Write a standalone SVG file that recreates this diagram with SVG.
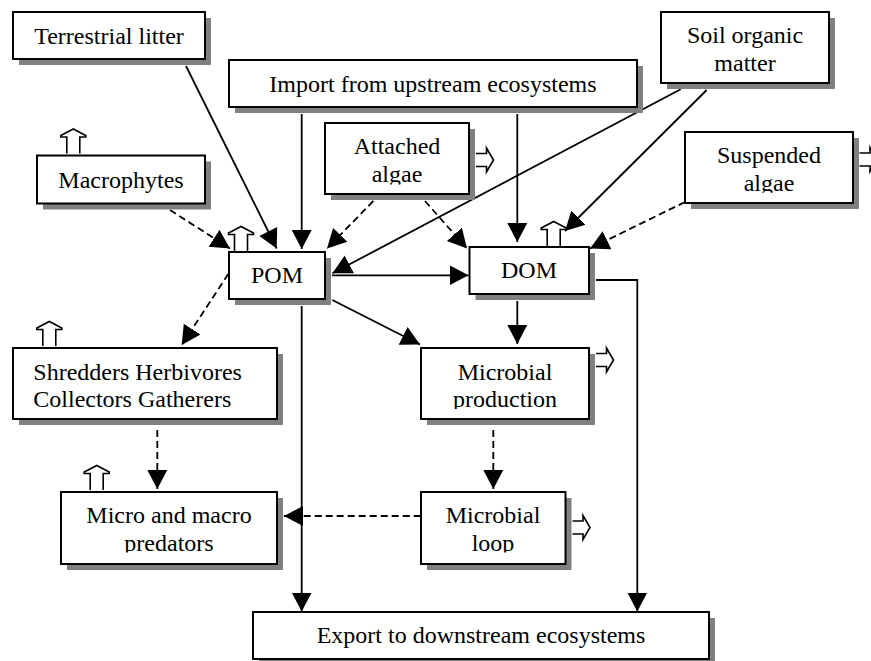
<svg xmlns="http://www.w3.org/2000/svg" xmlns:xlink="http://www.w3.org/1999/xlink" width="871" height="661" viewBox="0 0 871 661">
<style>
.sh{fill:#808080;stroke:none}
.bx{fill:#fff;stroke:#000;stroke-width:2}
.t{font-family:"Liberation Serif","Times New Roman",serif;font-size:24px;fill:#000;text-anchor:middle}
.tl{text-anchor:start}
.c{fill:none;stroke:#000;stroke-width:1.8;marker-end:url(#ah)}
.d{stroke-dasharray:7,4}
.oa{fill:#fff;stroke:#000;stroke-width:1.6}
</style>
<defs>
<marker id="ah" markerUnits="userSpaceOnUse" markerWidth="22" markerHeight="22" refX="19" refY="11" orient="auto">
<path d="M0,1 L19,11 L0,21 Z" fill="#000" stroke="none"/>
</marker>
<path id="up" d="M-6.5,0 V-16.5 H-12.5 V-18 L0,-24.5 L12.5,-18 V-16.5 H6.5 V0"/>
<path id="rt" d="M0,-6.5 H10.5 V-12 L17.5,0 L10.5,12 V6.5 H0"/>
<clipPath id="cpAtt"><rect x="0" y="0" width="871" height="184.5"/></clipPath>
<clipPath id="cpSus"><rect x="0" y="0" width="871" height="192.8"/></clipPath>
<clipPath id="cpProd"><rect x="0" y="0" width="871" height="409"/></clipPath>
<clipPath id="cpPred"><rect x="0" y="0" width="871" height="552.5"/></clipPath>
</defs>

<g id="connectors">
<line class="c" x1="186" y1="66" x2="276.7" y2="248.5"/>
<line class="c" x1="301.7" y1="114" x2="301.7" y2="249"/>
<line class="c" x1="517.3" y1="114" x2="517.3" y2="242"/>
<line class="c" x1="680.7" y1="89.3" x2="332.5" y2="273.3"/>
<line class="c" x1="706.7" y1="90" x2="565" y2="231"/>
<line class="c d" x1="170" y1="210" x2="230" y2="248.5"/>
<line class="c d" x1="373.3" y1="201" x2="327" y2="248.5"/>
<line class="c d" x1="425" y1="201" x2="467" y2="248.5"/>
<line class="c d" x1="685" y1="202" x2="590" y2="248.5"/>
<line class="c" x1="332" y1="275.3" x2="468.5" y2="275.3"/>
<line class="c" x1="517.3" y1="301" x2="517.3" y2="344"/>
<path class="c" d="M596,280 H637.3 V611.5"/>
<line class="c" x1="332.3" y1="300" x2="420" y2="344.5"/>
<line class="c" x1="301.7" y1="306" x2="301.7" y2="611.5"/>
<line class="c d" x1="228.3" y1="274" x2="181.7" y2="345"/>
<line class="c d" x1="157.3" y1="430" x2="157.3" y2="489"/>
<line class="c d" x1="493.3" y1="430" x2="493.3" y2="489"/>
<line class="c d" x1="420.7" y1="516" x2="284" y2="516"/>
</g>

<g id="terrestrial-litter">
<rect class="sh" x="19" y="18" width="192" height="47"/>
<rect class="bx" x="13" y="12" width="192" height="47"/>
<text class="t" x="109" y="44">Terrestrial litter</text>
</g>

<g id="import-upstream">
<rect class="sh" x="235" y="66" width="408" height="47"/>
<rect class="bx" x="229" y="60" width="408" height="47"/>
<text class="t" x="433" y="91.7">Import from upstream ecosystems</text>
</g>

<g id="soil-organic-matter">
<rect class="sh" x="667" y="18" width="168" height="71"/>
<rect class="bx" x="661" y="12" width="168" height="71"/>
<text class="t" x="745" y="43.3">Soil organic</text>
<text class="t" x="745" y="71">matter</text>
</g>

<g id="macrophytes">
<rect class="sh" x="43" y="161.5" width="168" height="48"/>
<rect class="bx" x="37" y="155.5" width="168" height="48"/>
<text class="t" x="121" y="187.7">Macrophytes</text>
<use href="#up" class="oa" x="73.3" y="153.5"/>
</g>

<g id="attached-algae">
<rect class="sh" x="331" y="129" width="144" height="71"/>
<rect class="bx" x="325" y="123" width="144" height="71"/>
<text class="t" x="397" y="154.3">Attached</text>
<text class="t" x="397" y="182.3" clip-path="url(#cpAtt)">algae</text>
<use href="#rt" class="oa" x="476" y="160"/>
</g>

<g id="suspended-algae">
<rect class="sh" x="691" y="138" width="168" height="71"/>
<rect class="bx" x="685" y="132" width="168" height="71"/>
<text class="t" x="769" y="163.3">Suspended</text>
<text class="t" x="769" y="191" clip-path="url(#cpSus)">algae</text>
<use href="#rt" class="oa" x="859.5" y="159.5"/>
</g>

<g id="pom">
<rect class="sh" x="235" y="258" width="96" height="47"/>
<rect class="bx" x="229" y="252" width="96" height="47"/>
<text class="t" x="277" y="283.3">POM</text>
<use href="#up" class="oa" x="241" y="251"/>
</g>

<g id="dom">
<rect class="sh" x="475.5" y="253" width="119.5" height="47"/>
<rect class="bx" x="469.5" y="247" width="119.5" height="47"/>
<text class="t" x="529" y="278.3">DOM</text>
<use href="#up" class="oa" x="553.7" y="246"/>
</g>

<g id="shredders">
<rect class="sh" x="19" y="354" width="264" height="71"/>
<rect class="bx" x="13" y="348" width="264" height="71"/>
<text class="t tl" x="33.3" y="380">Shredders Herbivores</text>
<text class="t tl" x="33.3" y="407.3">Collectors Gatherers</text>
<use href="#up" class="oa" x="49.3" y="346"/>
</g>

<g id="microbial-production">
<rect class="sh" x="427" y="354" width="168" height="71"/>
<rect class="bx" x="421" y="348" width="168" height="71"/>
<text class="t" x="505" y="380">Microbial</text>
<text class="t" x="505" y="407.3" clip-path="url(#cpProd)">production</text>
<use href="#rt" class="oa" x="596" y="360"/>
</g>

<g id="predators">
<rect class="sh" x="67" y="498" width="216" height="72"/>
<rect class="bx" x="61" y="492" width="216" height="72"/>
<text class="t" x="169" y="522.7">Micro and macro</text>
<text class="t" x="169" y="550.7" clip-path="url(#cpPred)">predators</text>
<use href="#up" class="oa" x="96.7" y="490"/>
</g>

<g id="microbial-loop">
<rect class="sh" x="427" y="498" width="144.5" height="72"/>
<rect class="bx" x="421" y="492" width="144.5" height="72"/>
<text class="t" x="493" y="523.3">Microbial</text>
<text class="t" x="493" y="550.7" clip-path="url(#cpPred)">loop</text>
<use href="#rt" class="oa" x="572.5" y="527.5"/>
</g>

<g id="export-downstream">
<rect class="sh" x="259" y="618" width="456" height="47"/>
<rect class="bx" x="253" y="612" width="456" height="47"/>
<text class="t" x="481" y="643.3">Export to downstream ecosystems</text>
</g>
</svg>
